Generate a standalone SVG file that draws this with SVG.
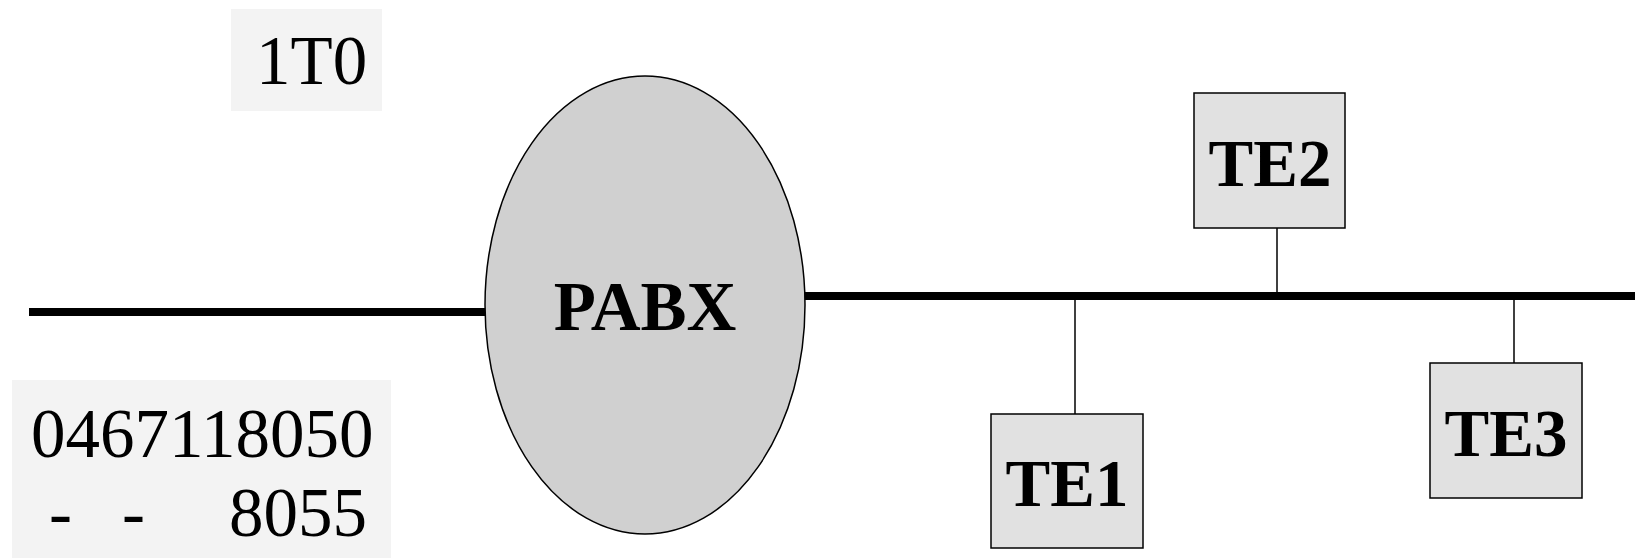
<svg xmlns="http://www.w3.org/2000/svg" width="1635" height="558" viewBox="0 0 1635 558">
<style>
.lbl{font-family:"Liberation Serif","Times New Roman",serif;font-size:67px;fill:#000}
.reg{font-size:69px}
.b{font-weight:bold;text-anchor:middle}
.te{fill:#e1e1e1;stroke:#000;stroke-width:1.5}
.bus{stroke:#000;stroke-width:8;fill:none}
.stem{stroke:#000;stroke-width:1.5;fill:none}
</style>
<rect width="1635" height="558" fill="#fff"/>
<g id="label-1T0">
<rect x="231" y="9" width="151" height="102" fill="#f3f3f3"/>
<text class="lbl reg" x="256" y="84">1T0</text>
</g>
<g id="label-number">
<rect x="12" y="380" width="379" height="178" fill="#f3f3f3"/>
<text class="lbl reg" x="31" y="457">0467118050</text>
<text class="lbl reg" y="536"><tspan x="49">-</tspan><tspan x="122">-</tspan><tspan x="229">8055</tspan></text>
</g>
<g id="connectors">
<line class="bus" x1="29" y1="312" x2="486" y2="312"/>
<line class="bus" x1="804" y1="296" x2="1635" y2="296"/>
<line class="stem" x1="1277" y1="228" x2="1277" y2="296"/>
<line class="stem" x1="1075" y1="296" x2="1075" y2="414"/>
<line class="stem" x1="1514" y1="296" x2="1514" y2="363"/>
</g>
<g id="pabx">
<ellipse cx="645" cy="305" rx="160" ry="229" fill="#d0d0d0" stroke="#000" stroke-width="1.5"/>
<text class="lbl b" x="645" y="330" style="font-size:69px">PABX</text>
</g>
<g id="te2">
<rect class="te" x="1194" y="93" width="151" height="135"/>
<text class="lbl b" x="1270" y="186">TE2</text>
</g>
<g id="te1">
<rect class="te" x="991" y="414" width="152" height="134"/>
<text class="lbl b" x="1067" y="506">TE1</text>
</g>
<g id="te3">
<rect class="te" x="1430" y="363" width="152" height="135"/>
<text class="lbl b" x="1506" y="456">TE3</text>
</g>
</svg>
